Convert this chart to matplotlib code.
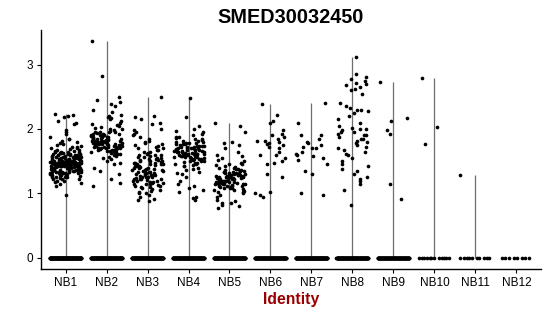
import numpy as np
import matplotlib
matplotlib.use("Agg")
import matplotlib.pyplot as plt

plt.rcParams['font.family'] = ['Liberation Sans', 'DejaVu Sans']

title = "SMED30032450"
groups = ["NB1", "NB2", "NB3", "NB4", "NB5", "NB6", "NB7", "NB8", "NB9", "NB10", "NB11", "NB12"]

# number of cells with zero expression per identity
n_zero = [160, 150, 150, 150, 150, 140, 150, 140, 130, 12, 10, 8]

# non-zero expression values
nb1 = [2.24, 2.21, 2.2, 2.18, 2.12, 2.1, 2.08, 1.98, 1.95, 1.92, 1.88, 1.85, 1.84, 1.82, 1.8,
       1.78, 1.76, 1.75, 1.74, 1.72, 1.72, 1.7, 1.7, 1.69, 1.68, 1.67, 1.66, 1.66, 1.65, 1.65,
       1.64, 1.64, 1.63, 1.63, 1.62, 1.62, 1.61, 1.61, 1.6, 1.6, 1.6, 1.59, 1.59, 1.58, 1.58,
       1.58, 1.57, 1.57, 1.56, 1.56, 1.56, 1.55, 1.55, 1.55, 1.54, 1.54, 1.54, 1.53, 1.53, 1.53,
       1.52, 1.52, 1.52, 1.52, 1.51, 1.51, 1.51, 1.5, 1.5, 1.5, 1.5, 1.49, 1.49, 1.49, 1.49,
       1.48, 1.48, 1.48, 1.48, 1.47, 1.47, 1.47, 1.47, 1.46, 1.46, 1.46, 1.46, 1.45, 1.45, 1.45,
       1.45, 1.45, 1.44, 1.44, 1.44, 1.44, 1.43, 1.43, 1.43, 1.43, 1.42, 1.42, 1.42, 1.42, 1.41,
       1.41, 1.41, 1.41, 1.4, 1.4, 1.4, 1.4, 1.39, 1.39, 1.39, 1.38, 1.38, 1.38, 1.37, 1.37,
       1.37, 1.36, 1.36, 1.36, 1.35, 1.35, 1.35, 1.34, 1.34, 1.33, 1.33, 1.33, 1.32, 1.32, 1.31,
       1.31, 1.3, 1.3, 1.29, 1.29, 1.28, 1.28, 1.27, 1.27, 1.26, 1.26, 1.25, 1.25, 1.24, 1.23,
       1.22, 1.22, 1.2, 1.2, 1.18, 1.17, 1.15, 1.12, 0.98, 1.5, 1.46, 1.43, 1.39, 1.53, 1.57,
       1.44, 1.41, 1.48, 1.36, 1.34, 1.51, 1.47, 1.42, 1.45, 1.49, 1.38, 1.55, 1.6, 1.63, 1.32]
nb2 = [3.37, 2.82, 2.5, 2.45, 2.42, 2.38, 2.35, 2.3, 2.26, 2.22, 2.2, 2.18, 2.17, 2.15, 2.12,
       2.1, 2.08, 2.06, 2.05, 2.03, 2.02, 2.0, 2.0, 1.98, 1.97, 1.96, 1.95, 1.95, 1.94, 1.93,
       1.92, 1.92, 1.91, 1.9, 1.9, 1.89, 1.88, 1.88, 1.87, 1.86, 1.86, 1.85, 1.85, 1.84, 1.84,
       1.83, 1.83, 1.82, 1.82, 1.81, 1.81, 1.8, 1.8, 1.8, 1.79, 1.79, 1.78, 1.78, 1.78, 1.77,
       1.77, 1.76, 1.76, 1.76, 1.75, 1.75, 1.75, 1.74, 1.74, 1.74, 1.73, 1.73, 1.72, 1.72, 1.72,
       1.71, 1.71, 1.7, 1.7, 1.7, 1.69, 1.69, 1.68, 1.68, 1.67, 1.67, 1.66, 1.66, 1.65, 1.65,
       1.64, 1.63, 1.62, 1.61, 1.6, 1.59, 1.58, 1.57, 1.55, 1.53, 1.5, 1.48, 1.45, 1.4, 1.35,
       1.3, 1.22, 1.17, 1.12, 1.95, 1.88, 1.82, 1.76, 1.72, 1.84, 1.9]
nb3 = [2.5, 2.2, 2.18, 2.15, 2.1, 2.07, 2.0, 1.98, 1.95, 1.92, 1.9, 1.87, 1.85, 1.82, 1.8,
       1.78, 1.76, 1.75, 1.73, 1.72, 1.7, 1.68, 1.67, 1.65, 1.64, 1.63, 1.62, 1.6, 1.6, 1.58,
       1.57, 1.56, 1.55, 1.54, 1.53, 1.52, 1.51, 1.5, 1.5, 1.49, 1.48, 1.47, 1.46, 1.45, 1.45,
       1.44, 1.43, 1.42, 1.41, 1.4, 1.4, 1.39, 1.38, 1.37, 1.36, 1.35, 1.35, 1.34, 1.33, 1.32,
       1.31, 1.3, 1.3, 1.29, 1.28, 1.27, 1.26, 1.25, 1.25, 1.24, 1.23, 1.22, 1.22, 1.21, 1.2,
       1.2, 1.19, 1.18, 1.17, 1.16, 1.15, 1.15, 1.14, 1.13, 1.12, 1.1, 1.1, 1.08, 1.07, 1.05,
       1.04, 1.02, 1.0, 1.0, 0.98, 0.95, 0.92, 0.9, 0.88, 1.45, 1.38, 1.33, 1.28, 1.52, 1.18,
       1.42, 1.36, 1.6, 1.26, 1.48, 1.7, 1.12, 1.3, 1.55, 1.22]
nb4 = [2.48, 2.18, 2.05, 2.0, 1.97, 1.95, 1.92, 1.9, 1.88, 1.87, 1.86, 1.85, 1.84, 1.83, 1.82,
       1.81, 1.8, 1.8, 1.79, 1.78, 1.77, 1.76, 1.76, 1.75, 1.74, 1.74, 1.73, 1.72, 1.72, 1.71,
       1.7, 1.7, 1.7, 1.69, 1.69, 1.68, 1.68, 1.67, 1.67, 1.66, 1.66, 1.65, 1.65, 1.65, 1.64,
       1.64, 1.63, 1.63, 1.62, 1.62, 1.61, 1.61, 1.6, 1.6, 1.6, 1.59, 1.59, 1.58, 1.58, 1.57,
       1.57, 1.56, 1.56, 1.55, 1.55, 1.54, 1.53, 1.53, 1.52, 1.51, 1.5, 1.5, 1.49, 1.48, 1.47,
       1.46, 1.45, 1.44, 1.43, 1.42, 1.4, 1.38, 1.36, 1.34, 1.32, 1.3, 1.25, 1.2, 1.15, 1.12,
       1.08, 1.05, 1.03, 0.95, 0.93, 0.9, 1.72, 1.68, 1.63, 1.78, 1.58, 1.66, 1.74, 1.62, 1.7]
nb5 = [2.1, 2.05, 1.95, 1.8, 1.78, 1.75, 1.7, 1.65, 1.6, 1.58, 1.55, 1.52, 1.5, 1.48, 1.46,
       1.45, 1.44, 1.42, 1.41, 1.4, 1.39, 1.38, 1.37, 1.36, 1.35, 1.35, 1.34, 1.33, 1.32, 1.32,
       1.31, 1.3, 1.3, 1.29, 1.29, 1.28, 1.28, 1.27, 1.27, 1.26, 1.26, 1.25, 1.25, 1.25, 1.24,
       1.24, 1.23, 1.23, 1.22, 1.22, 1.21, 1.21, 1.2, 1.2, 1.2, 1.19, 1.19, 1.18, 1.18, 1.17,
       1.17, 1.16, 1.16, 1.15, 1.15, 1.14, 1.14, 1.13, 1.12, 1.12, 1.11, 1.1, 1.1, 1.09, 1.08,
       1.07, 1.06, 1.05, 1.04, 1.03, 1.02, 1.0, 0.98, 0.95, 0.9, 0.88, 0.85, 0.85, 0.82, 0.8,
       0.78, 1.27, 1.22, 1.18, 1.31, 1.24, 1.14, 1.29, 1.2, 1.33, 1.26, 1.16, 1.38, 1.12, 1.08]
nb6 = [2.39, 2.22, 2.12, 2.1, 1.98, 1.92, 1.9, 1.85, 1.82, 1.8, 1.78, 1.75, 1.72, 1.7, 1.65,
       1.6, 1.55, 1.5, 1.48, 1.45, 1.3, 1.25, 1.02, 1.0, 0.97, 0.95, 1.6, 1.82, 1.88, 1.76]
nb7 = [2.4, 2.1, 1.9, 1.85, 1.8, 1.78, 1.75, 1.72, 1.7, 1.65, 1.62, 1.58, 1.55, 1.52, 1.45,
       1.35, 1.3, 1.0, 0.97, 1.6, 1.7, 1.9]
nb8 = [3.12, 2.85, 2.8, 2.78, 2.75, 2.72, 2.7, 2.68, 2.65, 2.62, 2.6, 2.55, 2.4, 2.35, 2.33,
       2.3, 2.28, 2.25, 2.2, 2.15, 2.1, 2.05, 2.02, 2.0, 1.98, 1.95, 1.92, 1.9, 1.88, 1.85,
       1.82, 1.8, 1.78, 1.75, 1.72, 1.7, 1.68, 1.65, 1.62, 1.6, 1.55, 1.5, 1.45, 1.42, 1.38,
       1.35, 1.3, 1.25, 1.2, 1.15, 1.22, 1.05, 0.82, 1.9, 2.0, 1.95, 2.3, 1.85]
nb9 = [2.73, 2.17, 2.12, 1.98, 1.92, 1.15, 0.92]
nb10 = [2.79, 2.03, 1.77]
nb11 = [1.29]
nb12 = []
values = [nb1, nb2, nb3, nb4, nb5, nb6, nb7, nb8, nb9, nb10, nb11, nb12]


def spread(n, seed):
    "Deterministic scatter of n offsets in [-0.39, 0.39] (hash of the index)."
    k = np.arange(n) + seed * 101
    h = np.sin(k * 12.9898 + 78.233) * 43758.5453
    return (h - np.floor(h) - 0.5) * 0.78


fig = plt.figure(figsize=(5.5, 3.16), dpi=100)
ax = fig.add_axes([0.0745, 0.149, 0.909, 0.757])

golden = 0.6180339887
for i, (g, vals, nz) in enumerate(zip(groups, values, n_zero)):
    x0 = i + 1
    if len(vals):
        ax.vlines(x0, 0, max(vals), color='#6e6e6e', lw=0.9, zorder=1)
    jz = ((np.arange(nz) * golden + 0.13 * i) % 1 - 0.5) * 0.78
    ax.scatter(x0 + jz, np.zeros(nz), s=7, color='black', linewidths=0, zorder=2)
    ax.scatter(x0 + spread(len(vals), i), vals, s=7, color='black', linewidths=0, zorder=2)

ax.set_xlim(0.4, 12.6)
ax.set_ylim(-0.17, 3.54)
ax.set_xticks(range(1, 13))
ax.set_xticklabels(groups)
ax.set_yticks([0, 1, 2, 3])
ax.tick_params(axis='both', labelsize=8.5, length=3, width=0.8, colors='black', pad=3)
for s in ['top', 'right']:
    ax.spines[s].set_visible(False)
for s in ['left', 'bottom']:
    ax.spines[s].set_linewidth(1.0)

ax.set_title(title, fontsize=14.3, fontweight='bold', pad=5)
ax.set_xlabel("Identity", fontsize=11.3, fontweight='bold', color='#9b0000', labelpad=2)

fig.savefig("out.png", dpi=100)
